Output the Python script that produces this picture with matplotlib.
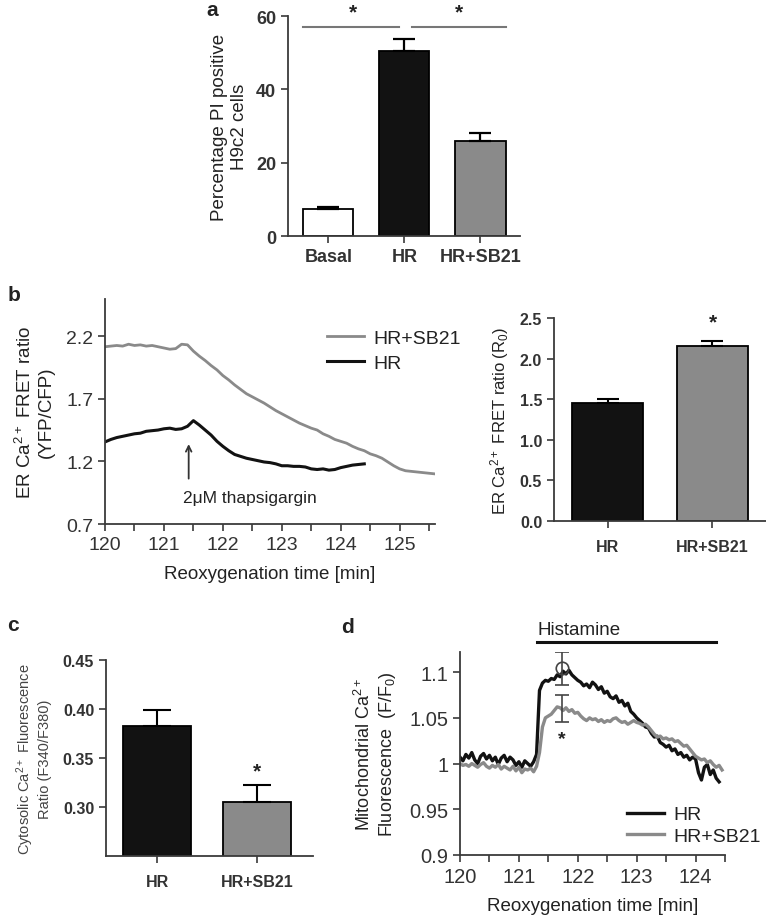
import numpy as np
import matplotlib
matplotlib.use('Agg')
import matplotlib.pyplot as plt

plt.rcParams['font.family'] = ['Liberation Sans', 'DejaVu Sans']
plt.rcParams['text.color'] = '#222222'
plt.rcParams['axes.labelcolor'] = '#222222'
plt.rcParams['xtick.color'] = '#333333'
plt.rcParams['ytick.color'] = '#333333'
plt.rcParams['mathtext.default'] = 'regular'

# ---- panel a : PI positive cells
a_groups = ['Basal', 'HR', 'HR+SB21']
a_values = [7.5, 50.5, 26.0]
a_errors = [0.5, 3.2, 2.0]

# ---- panel b : ER Ca2+ FRET traces (0.1 min steps from 120 min)
b_sb21 = [2.115, 2.12, 2.125, 2.12, 2.135, 2.125, 2.13, 2.12, 2.125, 2.115,
          2.105, 2.095, 2.10, 2.135, 2.13, 2.08, 2.04, 2.005, 1.965, 1.93,
          1.885, 1.85, 1.81, 1.775, 1.74, 1.715, 1.69, 1.665, 1.635, 1.605,
          1.58, 1.555, 1.53, 1.505, 1.485, 1.465, 1.45, 1.42, 1.40, 1.375,
          1.36, 1.345, 1.32, 1.30, 1.285, 1.26, 1.245, 1.225, 1.195, 1.165,
          1.14, 1.125, 1.12, 1.115, 1.11, 1.105, 1.10]
b_hr = [1.355, 1.375, 1.39, 1.40, 1.41, 1.42, 1.425, 1.44, 1.445, 1.45,
        1.46, 1.465, 1.455, 1.46, 1.48, 1.525, 1.49, 1.45, 1.41, 1.36,
        1.32, 1.285, 1.255, 1.24, 1.225, 1.215, 1.205, 1.195, 1.19, 1.18,
        1.165, 1.165, 1.16, 1.16, 1.155, 1.14, 1.135, 1.14, 1.13, 1.135,
        1.15, 1.16, 1.17, 1.175, 1.18]
b_thaps_time = 121.42

# ---- panel b right : baseline FRET ratio
b_groups = ['HR', 'HR+SB21']
b_values = [1.45, 2.15]
b_errors = [0.05, 0.07]

# ---- panel c : cytosolic Ca2+
c_groups = ['HR', 'HR+SB21']
c_values = [0.383, 0.305]
c_errors = [0.016, 0.017]

# ---- panel d : mitochondrial Ca2+ traces (0.05 min steps from 120 min)
d_hr = [1.007, 1.003, 1.010, 1.006, 1.012, 1.004, 1.000, 1.008, 1.011, 1.005,
        1.009, 1.003, 1.007, 0.999, 1.006, 1.009, 1.002, 1.007, 1.004, 0.998,
        1.002, 0.996, 1.003, 1.000, 0.997, 1.002, 1.010,
        1.080, 1.088, 1.091, 1.090, 1.093, 1.092, 1.097, 1.095, 1.101, 1.098,
        1.102, 1.097, 1.094, 1.091, 1.089, 1.085, 1.087, 1.083, 1.089, 1.086,
        1.081, 1.084, 1.077, 1.079, 1.073, 1.071, 1.074, 1.067, 1.069, 1.063,
        1.066, 1.057, 1.054, 1.050, 1.047, 1.044, 1.040, 1.039, 1.033, 1.029,
        1.030, 1.023, 1.021, 1.018, 1.020, 1.014, 1.016, 1.010, 1.012, 1.007,
        1.009, 1.004, 1.007, 1.005, 0.990, 0.982, 0.996, 0.999, 0.988, 0.993,
        0.984, 0.980]
d_sb21 = [1.000, 0.998, 0.999, 0.997, 1.000, 0.998, 0.996, 0.999, 1.001, 0.997,
          0.995, 0.998, 0.996, 0.999, 0.994, 0.997, 0.995, 0.993, 0.997, 0.992,
          0.996, 0.990, 0.994, 0.993, 0.995, 0.991, 0.997,
          1.012, 1.040, 1.050, 1.052, 1.054, 1.058, 1.062, 1.061, 1.058, 1.061,
          1.057, 1.059, 1.055, 1.056, 1.052, 1.049, 1.047, 1.050, 1.048, 1.049,
          1.046, 1.048, 1.045, 1.047, 1.046, 1.049, 1.050, 1.047, 1.045, 1.046,
          1.043, 1.045, 1.047, 1.045, 1.044, 1.042, 1.043, 1.040, 1.036, 1.032,
          1.029, 1.030, 1.027, 1.028, 1.026, 1.027, 1.024, 1.025, 1.022, 1.019,
          1.020, 1.016, 1.012, 1.008, 1.006, 1.004, 1.005, 1.001, 1.003, 0.999,
          0.996, 0.998, 0.993]
d_err_time = 121.73
d_hr_peak = [1.104, 0.018]     # mean, sem
d_sb21_peak = [1.060, 0.015]
d_yticks = [0.9, 0.95, 1.0, 1.05, 1.1]
d_yticklabels = ['0.9', '0.95', '1', '1.05', '1.1']

BLACK = '#121212'
GREY = '#8a8a8a'
SPINE = '#3a3a3a'

W, H = 766, 920
fig = plt.figure(figsize=(W / 100, H / 100), dpi=100)


def px_axes(l, t, r, b):
    return fig.add_axes([l / W, 1 - b / H, (r - l) / W, (b - t) / H])


def clean(ax):
    for s in ['top', 'right']:
        ax.spines[s].set_visible(False)
    for s in ['left', 'bottom']:
        ax.spines[s].set_color(SPINE)
        ax.spines[s].set_linewidth(1.3)
    ax.tick_params(direction='out', length=5, width=1.2, color=SPINE)


# ================= panel a
ax = px_axes(288, 17, 520, 237)
clean(ax)
xa = np.arange(len(a_groups))
ax.bar(xa, a_values, width=0.66, color=['white', BLACK, GREY],
       edgecolor='black', linewidth=1.3)
ax.errorbar(xa, a_values, yerr=[np.zeros(3), a_errors], fmt='none',
            ecolor='black', elinewidth=1.6, capsize=8, capthick=1.6)
ax.set_xlim(-0.53, 2.52)
ax.set_ylim(0, 60)
ax.set_yticks([0, 20, 40, 60])
ax.set_xticks(xa)
ax.set_xticklabels(a_groups, fontsize=13, fontweight='bold')
for lab in ax.get_yticklabels():
    lab.set_fontsize(13)
    lab.set_fontweight('bold')
ax.set_ylabel('Percentage PI positive\nH9c2 cells', fontsize=13.5, labelpad=6)
# significance lines
ax.plot([-0.33, 0.93], [57, 57], color='#777777', lw=1.5, clip_on=False)
ax.plot([1.1, 2.33], [57, 57], color='#777777', lw=1.5, clip_on=False)
ax.text(0.32, 58.5, '*', ha='center', va='bottom', fontsize=15, fontweight='bold')
ax.text(1.72, 58.5, '*', ha='center', va='bottom', fontsize=15, fontweight='bold')
fig.text(212 / W, 1 - 10 / H, 'a', fontsize=15, fontweight='bold', ha='center', va='center')

# ================= panel b left
ax = px_axes(105, 299.5, 435, 525)
clean(ax)
tb_sb = 120 + 0.1 * np.arange(len(b_sb21))
tb_hr = 120 + 0.1 * np.arange(len(b_hr))
ax.plot(tb_sb, b_sb21, color=GREY, lw=2.0, label='HR+SB21')
ax.plot(tb_hr, b_hr, color=BLACK, lw=2.2, label='HR')
ax.set_xlim(120, 125.6)
ax.set_ylim(0.7, 2.5)
ax.set_yticks([0.7, 1.2, 1.7, 2.2])
ax.set_xticks([120, 121, 122, 123, 124, 125])
ax.set_xticks(np.arange(120.5, 125.6, 1.0), minor=True)
ax.tick_params(which='minor', direction='out', length=5, width=1.2, color=SPINE)
ax.tick_params(labelsize=14)
ax.set_xlabel('Reoxygenation time [min]', fontsize=13.5, labelpad=9)
ax.set_ylabel('ER Ca$^{2+}$ FRET ratio\n(YFP/CFP)', fontsize=13.5, labelpad=8)
ax.annotate('', xy=(b_thaps_time, 1.36), xytext=(b_thaps_time, 1.04),
            arrowprops=dict(arrowstyle='->', color='#333333', lw=1.3))
ax.text(122.45, 0.91, '2\u03bcM thapsigargin', ha='center', va='center', fontsize=12.5)
ax.legend(loc='upper left', bbox_to_anchor=(0.673, 0.865), frameon=False,
          fontsize=14, handlelength=1.9, handletextpad=0.5, labelspacing=0.4,
          borderpad=0, borderaxespad=0)
fig.text(14 / W, 1 - 296 / H, 'b', fontsize=15, fontweight='bold', ha='center', va='center')

# ================= panel b right
ax = px_axes(554, 319, 766, 522)
clean(ax)
xb = np.arange(len(b_groups))
ax.bar(xb, b_values, width=0.68, color=[BLACK, GREY], edgecolor='black', linewidth=1.3)
ax.errorbar(xb, b_values, yerr=[np.zeros(2), b_errors], fmt='none',
            ecolor='black', elinewidth=1.5, capsize=8, capthick=1.5)
ax.set_xlim(-0.51, 1.51)
ax.set_ylim(0, 2.5)
ax.set_yticks([0, 0.5, 1.0, 1.5, 2.0, 2.5])
ax.set_yticklabels(['%.1f' % v for v in [0, 0.5, 1.0, 1.5, 2.0, 2.5]],
                   fontsize=11.5, fontweight='bold')
ax.set_xticks(xb)
ax.set_xticklabels(b_groups, fontsize=11.5, fontweight='bold')
ax.tick_params(axis='x', pad=8)
ax.set_ylabel('ER Ca$^{2+}$ FRET ratio (R$_0$)', fontsize=12, labelpad=6)
ax.text(1, 2.33, '*', ha='center', va='bottom', fontsize=15, fontweight='bold')

# ================= panel c
ax = px_axes(106, 661, 313, 857)
clean(ax)
xc = np.arange(len(c_groups))
ax.bar(xc, c_values, width=0.68, color=[BLACK, GREY], edgecolor='black', linewidth=1.3)
ax.errorbar(xc, c_values, yerr=[np.zeros(2), c_errors], fmt='none',
            ecolor='black', elinewidth=1.5, capsize=10, capthick=1.5)
ax.set_xlim(-0.51, 1.555)
ax.set_ylim(0.25, 0.45)
ax.set_yticks([0.30, 0.35, 0.40, 0.45])
ax.set_yticklabels(['%.2f' % v for v in [0.30, 0.35, 0.40, 0.45]],
                   fontsize=11.5, fontweight='bold')
ax.set_xticks(xc)
ax.set_xticklabels(c_groups, fontsize=11.5, fontweight='bold')
ax.tick_params(axis='x', pad=8)
ax.set_ylabel('Cytosolic Ca$^{2+}$ Fluorescence\nRatio (F340/F380)', fontsize=10.5,
              color='#444444', labelpad=8)
ax.text(1, 0.327, '*', ha='center', va='bottom', fontsize=15, fontweight='bold')
fig.text(13 / W, 1 - 626 / H, 'c', fontsize=15, fontweight='bold', ha='center', va='center')

# ================= panel d
ax = px_axes(460, 653, 725, 856)
clean(ax)
td_hr = 120 + 0.05 * np.arange(len(d_hr))
td_sb = 120 + 0.05 * np.arange(len(d_sb21))
ax.plot(td_hr, d_hr, color=BLACK, lw=2.4, label='HR')
ax.plot(td_sb, d_sb21, color=GREY, lw=2.4, label='HR+SB21')
ax.errorbar([d_err_time], [d_hr_peak[0]], yerr=[d_hr_peak[1]], fmt='o', mfc='none',
            mec='#444444', ms=9, mew=1.2, ecolor='#444444', elinewidth=1.2,
            capsize=5, capthick=1.2)
ax.errorbar([d_err_time], [d_sb21_peak[0]], yerr=[d_sb21_peak[1]], fmt='none',
            ecolor='#444444', elinewidth=1.2, capsize=5, capthick=1.2)
ax.text(d_err_time, 1.027, '*', ha='center', va='center', fontsize=14, fontweight='bold')
ax.set_xlim(120, 124.5)
ax.set_ylim(0.9, 1.122)
ax.set_yticks(d_yticks)
ax.set_yticklabels(d_yticklabels)
ax.set_xticks([120, 121, 122, 123, 124])
ax.set_xticks(np.arange(120.5, 124.6, 1.0), minor=True)
ax.tick_params(which='minor', direction='out', length=5, width=1.2, color=SPINE)
ax.tick_params(labelsize=14.5)
ax.set_xlabel('Reoxygenation time [min]', fontsize=13.5, labelpad=8)
ax.set_ylabel('Mitochondrial Ca$^{2+}$\nFluorescence  (F/F$_0$)', fontsize=13, labelpad=8)
ax.plot([121.31, 124.34], [1.133, 1.133], color=BLACK, lw=2.2, clip_on=False)
ax.text(121.31, 1.137, 'Histamine', ha='left', va='bottom', fontsize=13.5)
ax.legend(loc='lower left', bbox_to_anchor=(0.63, 0.05), frameon=False,
          fontsize=14, handlelength=1.9, handletextpad=0.5, labelspacing=0.2,
          borderpad=0, borderaxespad=0)
fig.text(347 / W, 1 - 628 / H, 'd', fontsize=15, fontweight='bold', ha='center', va='center')

fig.savefig('out.png', dpi=100)
